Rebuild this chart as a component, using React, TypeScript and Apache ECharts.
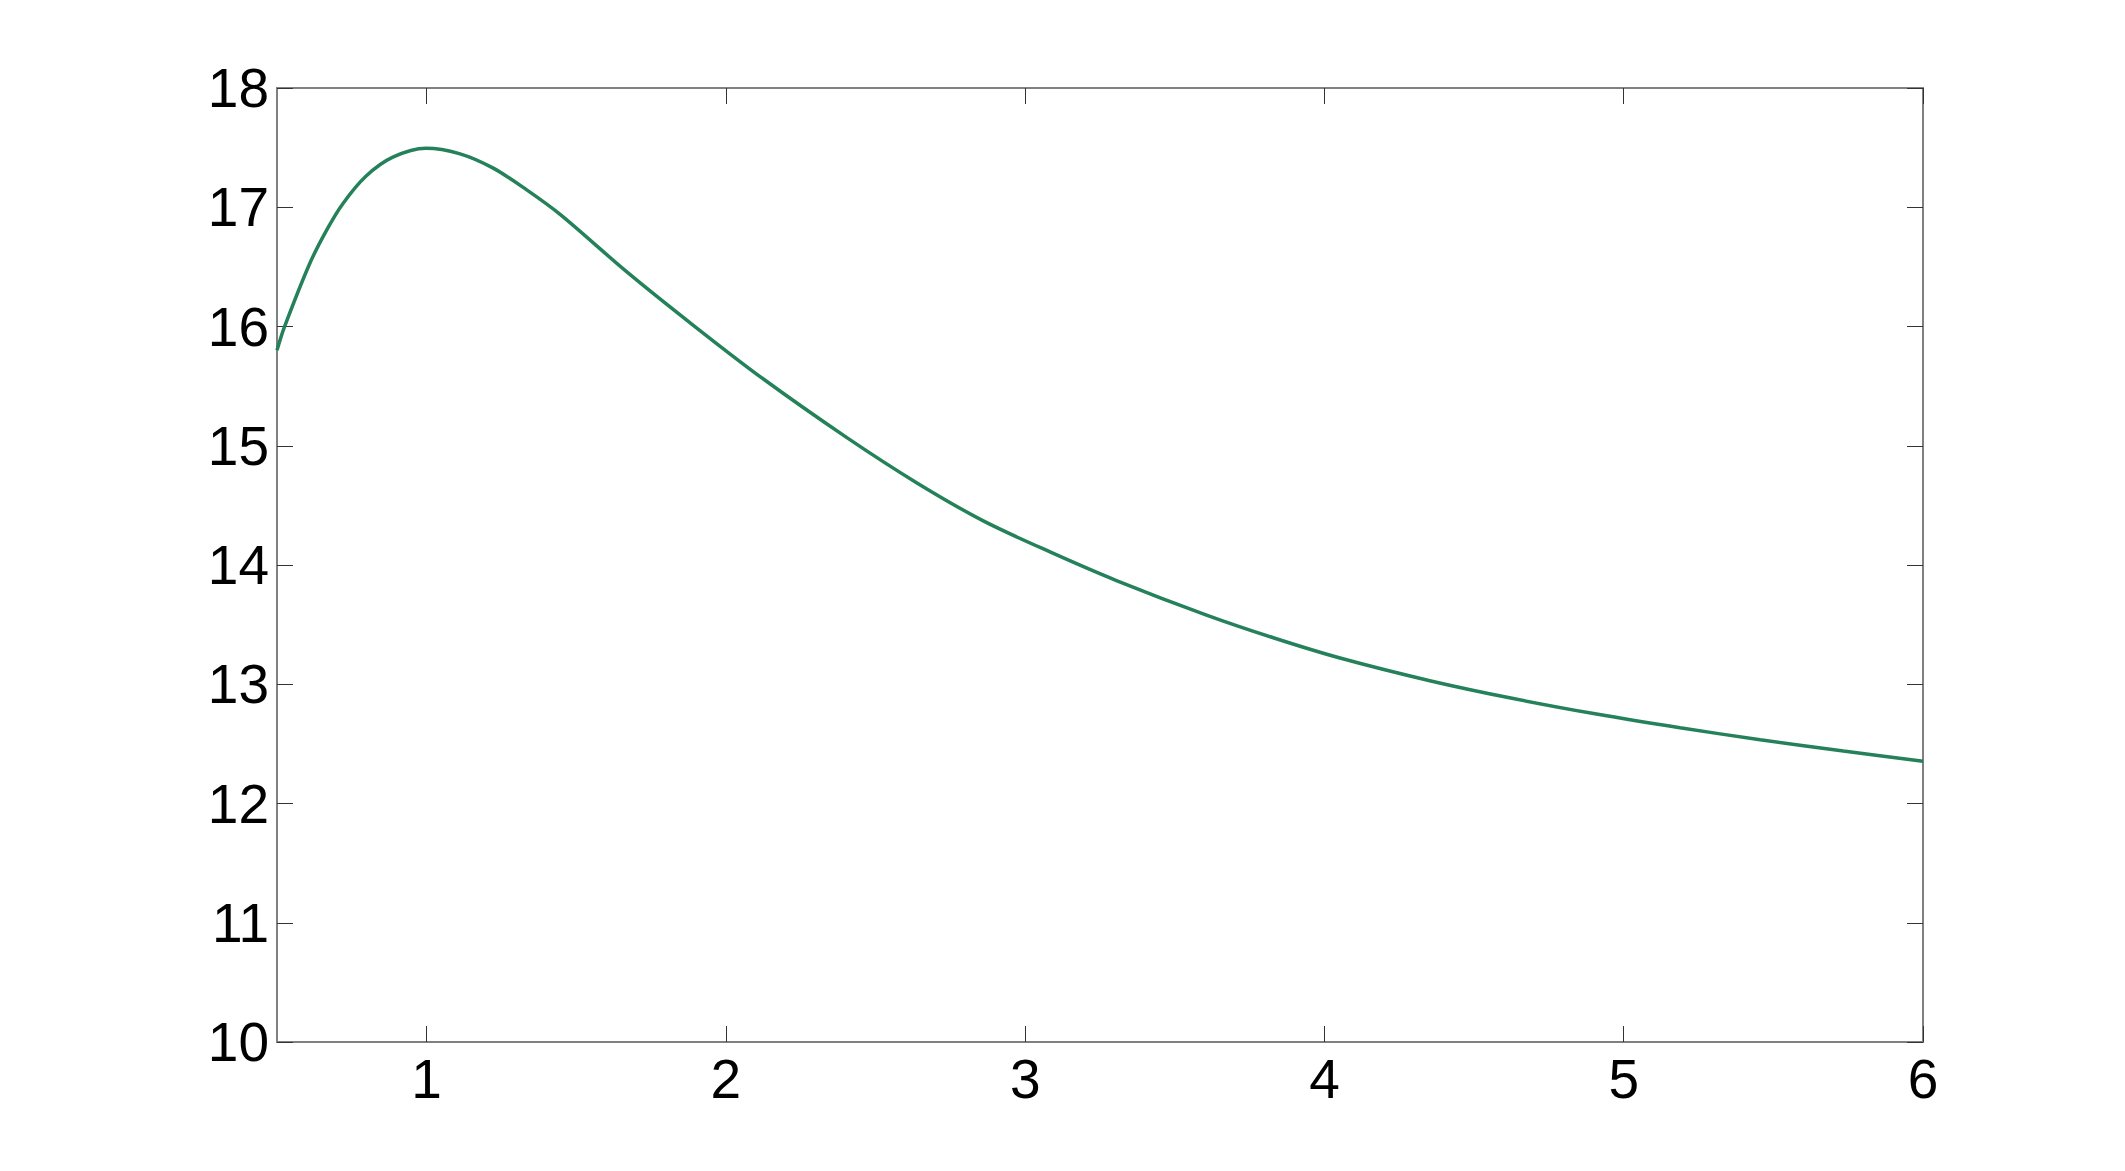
import React, { useEffect, useRef } from "react";
import * as echarts from "echarts";

const xValues = [
  0.5, 0.524, 0.608, 0.664, 0.72, 0.797, 0.887, 0.998, 1.109, 1.221, 1.332,
  1.446, 1.668, 1.891, 2.114, 2.403, 2.637, 2.86, 3.083, 3.305, 3.606, 3.829,
  4.052, 4.352, 4.631, 4.909, 5.188, 5.456, 5.734, 6.0,
];
const yValues = [
  15.8, 15.99, 16.52, 16.8, 17.03, 17.26, 17.42, 17.495, 17.45, 17.33, 17.15,
  16.94, 16.46, 16.01, 15.58, 15.07, 14.69, 14.37, 14.11, 13.87, 13.58, 13.39,
  13.22, 13.03, 12.88, 12.75, 12.635, 12.535, 12.44, 12.355,
];
const xTicks = [1, 2, 3, 4, 5, 6];
const yMin = 10;
const yMax = 18;
const xMin = 0.5;
const xMax = 6;

export default function App() {
  const ref = useRef<HTMLDivElement>(null);
  useEffect(() => {
    document.body.style.margin = "0";
    if (!ref.current) return;
    const chart = echarts.init(ref.current, undefined, { renderer: "svg" });
    const font = "'Liberation Sans', Arial, Helvetica, sans-serif";
    const lineStyle = { color: "#808080", width: 2 };
    const tickStyle = { color: "#333333", width: 1 };
    chart.setOption({
      animation: false,
      backgroundColor: "#ffffff",
      grid: { left: 277, top: 88, right: 202, bottom: 129, containLabel: false },
      xAxis: [
        {
          type: "value",
          min: xMin,
          max: xMax,
          position: "bottom",
          splitLine: { show: false },
          axisLine: { show: true, onZero: false, lineStyle },
          axisTick: { show: true, inside: true, length: 16, lineStyle: tickStyle, customValues: xTicks },
          axisLabel: {
            show: true,
            customValues: xTicks,
            margin: 9,
            fontSize: 55,
            color: "#000",
            fontFamily: font,
          },
        },
        {
          type: "value",
          min: xMin,
          max: xMax,
          position: "top",
          splitLine: { show: false },
          axisLine: { show: true, onZero: false, lineStyle },
          axisTick: { show: true, inside: true, length: 16, lineStyle: tickStyle, customValues: xTicks },
          axisLabel: { show: false },
        },
      ],
      yAxis: [
        {
          type: "value",
          min: yMin,
          max: yMax,
          interval: 1,
          position: "left",
          splitLine: { show: false },
          axisLine: { show: true, onZero: false, lineStyle },
          axisTick: { show: true, inside: true, length: 16, lineStyle: tickStyle },
          axisLabel: {
            show: true,
            margin: 8,
            fontSize: 55,
            color: "#000",
            fontFamily: font,
          },
        },
        {
          type: "value",
          min: yMin,
          max: yMax,
          interval: 1,
          position: "right",
          splitLine: { show: false },
          axisLine: { show: true, onZero: false, lineStyle },
          axisTick: { show: true, inside: true, length: 16, lineStyle: tickStyle },
          axisLabel: { show: false },
        },
      ],
      series: [
        {
          type: "line",
          xAxisIndex: 0,
          yAxisIndex: 0,
          data: xValues.map((x, i) => [x, yValues[i]]),
          smooth: 0.3,
          showSymbol: false,
          symbol: "none",
          clip: true,
          lineStyle: { color: "#24815a", width: 3.5 },
        },
      ],
    });
    return () => chart.dispose();
  }, []);
  return <div ref={ref} style={{ width: 2125, height: 1171 }} />;
}
